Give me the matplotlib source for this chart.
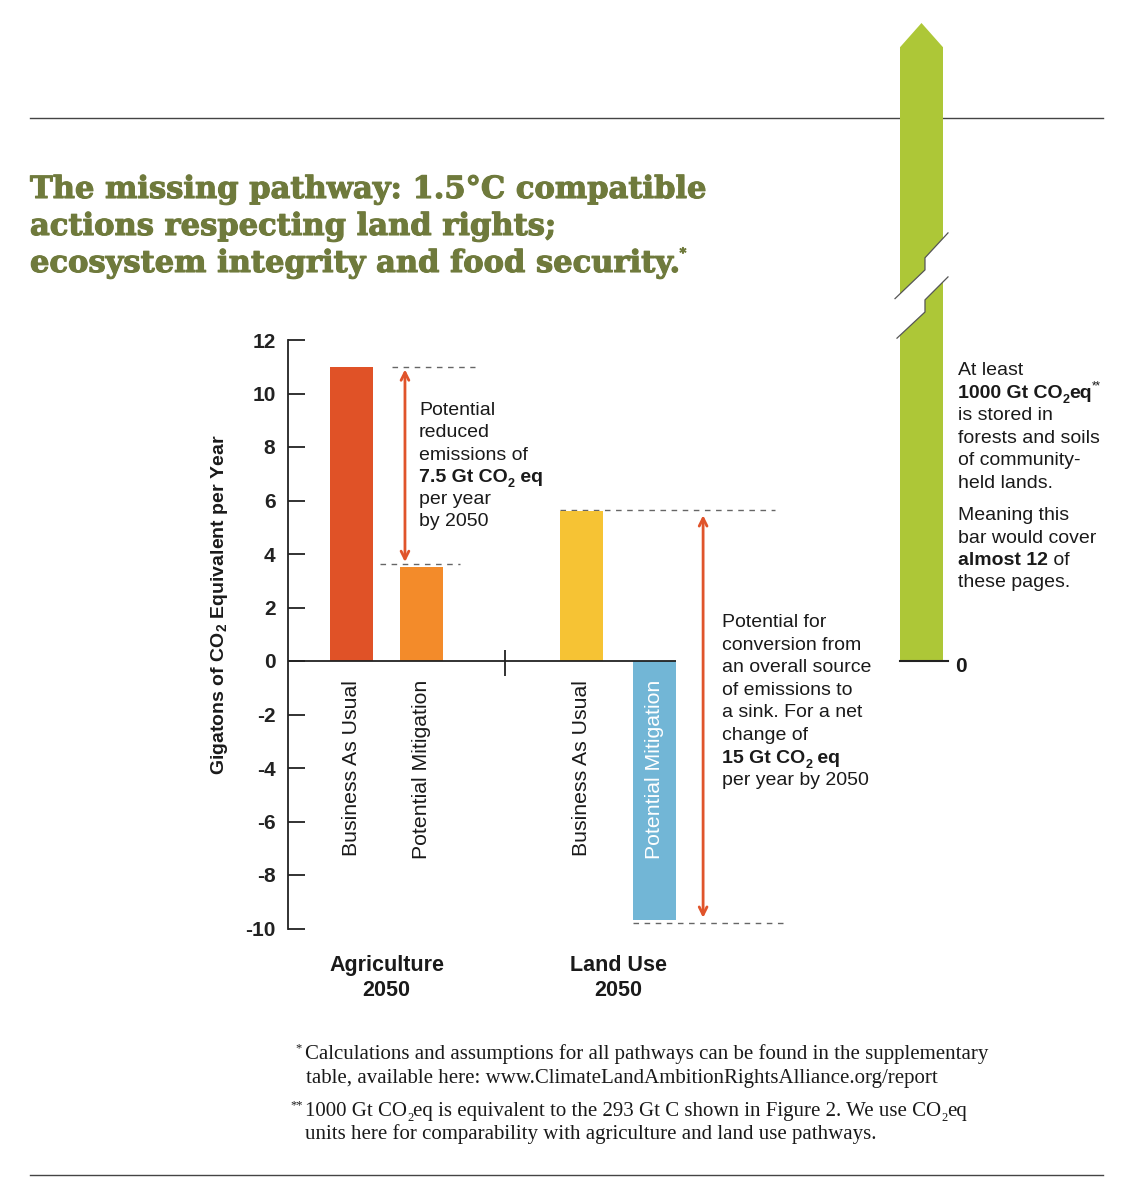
import matplotlib
matplotlib.use('Agg')
import matplotlib.pyplot as plt
import matplotlib.patheffects as pe
from matplotlib.patches import Polygon
from matplotlib.lines import Line2D

# ---- data ----
sectors = ['Agriculture\n2050', 'Land Use\n2050']
scenarios = ['Business As Usual', 'Potential Mitigation', 'Business As Usual', 'Potential Mitigation']
emissions = [11.0, 3.5, 5.6, -9.7]  # Gt CO2eq per year
bar_colors = ['#e05227', '#f38b2a', '#f6c334', '#72b6d6']
label_colors = ['#1a1a1a', '#1a1a1a', '#1a1a1a', 'white']
yticks = [12, 10, 8, 6, 4, 2, 0, -2, -4, -6, -8, -10]
agri_reduction = 7.5
landuse_change = 15
stored_carbon = 1000
green = '#adc737'
olive = '#6f7a3c'
red_arrow = '#e0542b'
ink = '#1a1a1a'

plt.rcParams['font.family'] = ['Liberation Sans', 'DejaVu Sans']
plt.rcParams['mathtext.fontset'] = 'custom'
plt.rcParams['mathtext.rm'] = 'Liberation Sans'
plt.rcParams['mathtext.bf'] = 'Liberation Sans:bold'

W, H = 1133, 1200
fig = plt.figure(figsize=(W / 100, H / 100), dpi=100)
renderer = fig.canvas.get_renderer()


def fy(y):
    return 1 - y / H


def put_line(x, y, pieces, size=14, family='Liberation Sans', color=ink, effects=None):
    # pieces: (text, bold, scale, dy in px)
    for p in pieces:
        s, bold = p[0], p[1]
        scale = p[2] if len(p) > 2 else 1.0
        dy = p[3] if len(p) > 3 else 0
        t = fig.text(x / W, fy(y + dy), s, fontsize=size * scale,
                     fontweight='bold' if bold else 'normal', family=family,
                     color=color, ha='left', va='baseline')
        if effects:
            t.set_path_effects(effects)
        x += t.get_window_extent(renderer).width


# rules
fig.add_artist(Line2D([30 / W, 1103 / W], [fy(118)] * 2, color='#444', lw=1, zorder=-1))
fig.add_artist(Line2D([30 / W, 1103 / W], [fy(1175)] * 2, color='#444', lw=1, zorder=-1))

# title
title_lines = ['The missing pathway: 1.5°C compatible',
               'actions respecting land rights;',
               'ecosystem integrity and food security.']
heavy = [pe.withStroke(linewidth=0.8, foreground=olive)]
for i, ln in enumerate(title_lines):
    pieces = [(ln, True)]
    if i == 2:
        pieces.append(('*', False, 0.42, -15))
    put_line(30, 198 + 37 * i, pieces, size=22, family='DejaVu Serif', color=olive, effects=heavy)

# ---- main bar chart ----
unit = 70.0
ax = fig.add_axes([288 / W, 1 - 928.5 / H, 512 / W, (928.5 - 340) / H])
ax.set_xlim(0, 512 / unit)
ax.set_ylim(-10, 12)
xpos = [0.907, 1.907, 4.19, 5.24]
bw = 0.614
ax.bar(xpos, emissions, width=bw, color=bar_colors, zorder=2)
for s in ['top', 'right', 'bottom']:
    ax.spines[s].set_visible(False)
ax.spines['left'].set_linewidth(1.3)
ax.spines['left'].set_color('#222')
ax.set_xticks([])
ax.set_yticks(yticks)
ax.set_yticklabels([str(v) for v in yticks], fontsize=15, fontweight='bold')
ax.tick_params(axis='y', direction='in', length=12, width=1.3, pad=9, colors='#222')
ax.hlines(0, 0, xpos[-1] + bw / 2, color='#222', lw=1.3, zorder=3)
ax.vlines(3.1, -0.56, 0.41, color='#222', lw=1.3, zorder=3)

for i, lab in enumerate(scenarios):
    ax.text(xpos[i], -0.7, lab, rotation=90, ha='center', va='top',
            fontsize=15.3, color=label_colors[i], zorder=4)

for j, sec in enumerate(sectors):
    cx = (xpos[2 * j] + xpos[2 * j + 1]) / 2
    ax.text(cx, -11.85, sec, ha='center', va='center', fontsize=15.5,
            fontweight='bold', color=ink, linespacing=1.3, clip_on=False)

dash = dict(color='#666', lw=1, linestyle=(0, (4, 4)), clip_on=False, zorder=1)
ax.hlines(emissions[0], 1.486, 2.671, **dash)
ax.hlines(emissions[1] + 0.12, 1.314, 2.457, **dash)
ax.hlines(emissions[2] + 0.05, 3.886, 6.957, **dash)
ax.hlines(emissions[3] - 0.1, 4.93, 7.07, **dash)

arrow = dict(arrowstyle='<->', color=red_arrow, lw=2, shrinkA=0, shrinkB=0, mutation_scale=14)
ax.annotate('', xy=(1.671, emissions[0] - 0.1), xytext=(1.671, emissions[1] + 0.2),
            arrowprops=arrow, annotation_clip=False)
ax.annotate('', xy=(5.93, emissions[2] - 0.15), xytext=(5.93, emissions[3] + 0.1),
            arrowprops=arrow, annotation_clip=False)

fig.text(220 / W, fy(605), r'Gigatons of CO$_\mathbf{2}$ Equivalent per Year', rotation=90,
         ha='center', va='center', fontsize=14, fontweight='bold', color=ink)

sub2 = ('2', True, 0.65, 5)
agri_lines = [[('Potential', False)], [('reduced', False)], [('emissions of', False)],
              [(f'{agri_reduction} Gt CO', True), sub2, (' eq', True)],
              [('per year', False)], [('by 2050', False)]]
for i, pcs in enumerate(agri_lines):
    put_line(419, 415 + 22.3 * i, pcs)

lu_lines = [[('Potential for', False)], [('conversion from', False)],
            [('an overall source', False)], [('of emissions to', False)],
            [('a sink. For a net', False)], [('change of', False)],
            [(f'{landuse_change} Gt CO', True), sub2, (' eq', True)],
            [('per year by 2050', False)]]
for i, pcs in enumerate(lu_lines):
    put_line(722, 627 + 22.6 * i, pcs)

# ---- green "stored carbon" bar (broken, not to scale) ----
ax_g = fig.add_axes([900 / W, 1 - 661 / H, 43 / W, 638 / H])
ax_g.axis('off')
ax_g.set_xlim(0, 1)
ax_g.set_ylim(0, 1)
shoulder = 0.962
ax_g.add_patch(Polygon([(0, 0), (1, 0), (1, shoulder), (0.5, 1), (0, shoulder)],
                       closed=True, facecolor=green, edgecolor='none'))
brk_top = [(1.116, 0.671), (0.581, 0.632), (0.581, 0.613), (-0.116, 0.568)]
brk_bot = [(1.116, 0.602), (0.581, 0.566), (0.581, 0.547), (-0.07, 0.506)]
ax_g.add_patch(Polygon(brk_top + brk_bot[::-1], closed=True, facecolor='white',
                       edgecolor='none', clip_on=False))
for path in (brk_top, brk_bot):
    ax_g.plot([p[0] for p in path], [p[1] for p in path], color='#555', lw=0.9, clip_on=False)
ax_g.plot([0, 1.116], [0, 0], color='#222', lw=1.5, clip_on=False)
put_line(955, 672, [('0', True)], size=15)

green_lines = [[('At least', False)],
               [(f'{stored_carbon} Gt CO', True), sub2, ('eq', True), ('**', False, 0.6, -8)],
               [('is stored in', False)], [('forests and soils', False)],
               [('of community-', False)], [('held lands.', False)]]
for i, pcs in enumerate(green_lines):
    put_line(958, 375 + 22.6 * i, pcs)
green_lines2 = [[('Meaning this', False)], [('bar would cover', False)],
                [('almost 12', True), (' of', False)], [('these pages.', False)]]
for i, pcs in enumerate(green_lines2):
    put_line(958, 520 + 22.5 * i, pcs)

# ---- footnotes ----
serif = 'Liberation Serif'
fs = 15
put_line(295, 1059, [('*', False, 0.6, -8)], size=fs, family=serif)
put_line(305, 1059, [('Calculations and assumptions for all pathways can be found in the supplementary', False)],
         size=fs, family=serif)
put_line(306, 1083, [('table, available here: www.ClimateLandAmbitionRightsAlliance.org/report', False)],
         size=fs, family=serif)
put_line(290, 1116, [('**', False, 0.6, -8)], size=fs, family=serif)
s2 = ('2', False, 0.6, 5)
put_line(305, 1116, [('1000 Gt CO', False), s2,
                     ('eq is equivalent to the 293 Gt C shown in Figure 2. We use CO', False), s2, ('eq', False)],
         size=fs, family=serif)
put_line(305, 1139, [('units here for comparability with agriculture and land use pathways.', False)],
         size=fs, family=serif)

fig.savefig('out.png', dpi=100, facecolor='white')
